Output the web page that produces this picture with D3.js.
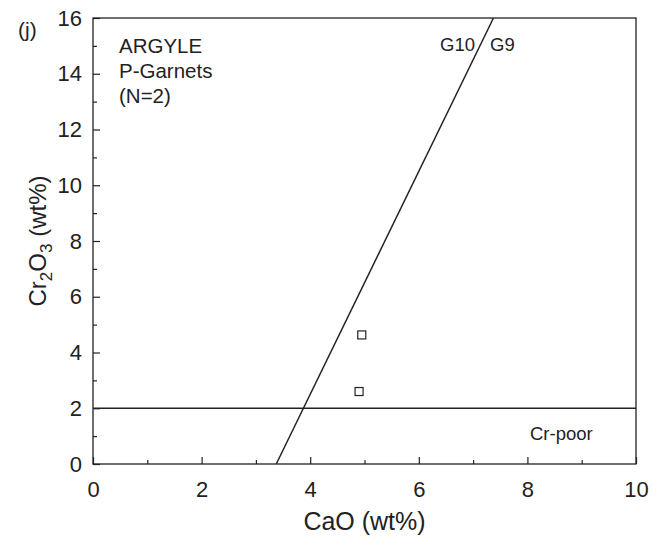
<!DOCTYPE html>
<html>
<head>
<meta charset="utf-8">
<script src="https://cdn.jsdelivr.net/npm/d3@7"></script>
<style>
  body { margin: 0; background: #fff; }
  svg { display: block; font-family: "Liberation Sans", Arial, sans-serif; }
</style>
</head>
<body>
<svg id="chart" width="663" height="540"></svg>
<script>
// Garnet analyses: CaO vs Cr2O3 (wt%)
const caoValues = [4.95, 4.90];
const cr2o3Values = [4.63, 2.60];

// G10/G9 dividing line (CaO, Cr2O3 endpoints) and Cr-poor threshold
const divideCaO = [3.375, 7.375];
const divideCr = [0, 16];
const crPoorLevel = 2;

const xTicks = [0, 2, 4, 6, 8, 10];
const yTicks = [0, 2, 4, 6, 8, 10, 12, 14, 16];
const xMinor = [1, 3, 5, 7, 9];
const yMinor = [1, 3, 5, 7, 9, 11, 13, 15];

const svg = d3.select("#chart");
const plotL = 93, plotR = 636, plotT = 18, plotB = 464;

const x = d3.scaleLinear().domain([0, 10]).range([plotL, plotR]);
const y = d3.scaleLinear().domain([0, 16]).range([plotB, plotT]);

// frame
svg.append("rect")
  .attr("x", plotL).attr("y", plotT)
  .attr("width", plotR - plotL).attr("height", plotB - plotT)
  .attr("fill", "none").attr("stroke", "#222").attr("stroke-width", 1.3);

// bottom axis: inward major and minor ticks
const xAxis = svg.append("g").attr("transform", `translate(0,${plotB})`);
xAxis.call(d3.axisBottom(x).tickValues(xTicks).tickSize(-7).tickPadding(17).tickFormat(d3.format("d")));
xAxis.append("g").call(d3.axisBottom(x).tickValues(xMinor).tickSize(-4).tickFormat(""));
xAxis.selectAll(".domain").remove();
xAxis.selectAll("text").attr("font-size", 22).attr("fill", "#222")
  .attr("font-family", "Liberation Sans, Arial, sans-serif");
xAxis.selectAll("line").attr("stroke", "#222").attr("stroke-width", 1.2);

// left axis
const yAxis = svg.append("g").attr("transform", `translate(${plotL},0)`);
yAxis.call(d3.axisLeft(y).tickValues(yTicks).tickSize(-7).tickPadding(11).tickFormat(d3.format("d")));
yAxis.append("g").call(d3.axisLeft(y).tickValues(yMinor).tickSize(-4).tickFormat(""));
yAxis.selectAll(".domain").remove();
yAxis.selectAll("text").attr("font-size", 22).attr("fill", "#222")
  .attr("font-family", "Liberation Sans, Arial, sans-serif");
yAxis.selectAll("line").attr("stroke", "#222").attr("stroke-width", 1.2);

// G10/G9 line
svg.append("line")
  .attr("x1", x(divideCaO[0])).attr("y1", y(divideCr[0]))
  .attr("x2", x(divideCaO[1])).attr("y2", y(divideCr[1]))
  .attr("stroke", "#222").attr("stroke-width", 1.5);

// Cr-poor line
svg.append("line")
  .attr("x1", x(0)).attr("x2", x(10))
  .attr("y1", y(crPoorLevel)).attr("y2", y(crPoorLevel))
  .attr("stroke", "#222").attr("stroke-width", 1.3);

// data points: open squares
svg.selectAll("rect.pt")
  .data(caoValues.map((c, i) => [c, cr2o3Values[i]]))
  .join("rect")
  .attr("class", "pt")
  .attr("x", d => x(d[0]) - 4).attr("y", d => y(d[1]) - 4)
  .attr("width", 8).attr("height", 8)
  .attr("fill", "none").attr("stroke", "#222").attr("stroke-width", 1.2);

// text labels
const txt = (t, px, py, size, anchor = "start") =>
  svg.append("text").attr("x", px).attr("y", py).attr("font-size", size)
    .attr("fill", "#222").attr("text-anchor", anchor).text(t);

txt("(j)", 18, 37, 21);
txt("ARGYLE", 119, 53, 20.5);
txt("P-Garnets", 119, 78, 20.5);
txt("(N=2)", 119, 103, 20.5);
txt("G10", 440, 51, 18.5);
txt("G9", 490, 51, 18.5);
txt("Cr-poor", 530, 440, 18.5);

// axis titles
txt("CaO (wt%)", x(5), 530, 25, "middle");

const yTitle = svg.append("text")
  .attr("transform", `translate(46,${(plotT + plotB) / 2}) rotate(-90)`)
  .attr("text-anchor", "middle").attr("font-size", 24).attr("fill", "#222");
yTitle.append("tspan").text("Cr");
yTitle.append("tspan").attr("font-size", 17).attr("dy", 6).text("2");
yTitle.append("tspan").attr("dy", -6).text("O");
yTitle.append("tspan").attr("font-size", 17).attr("dy", 6).text("3");
yTitle.append("tspan").attr("dy", -6).text(" (wt%)");
</script>
</body>
</html>
